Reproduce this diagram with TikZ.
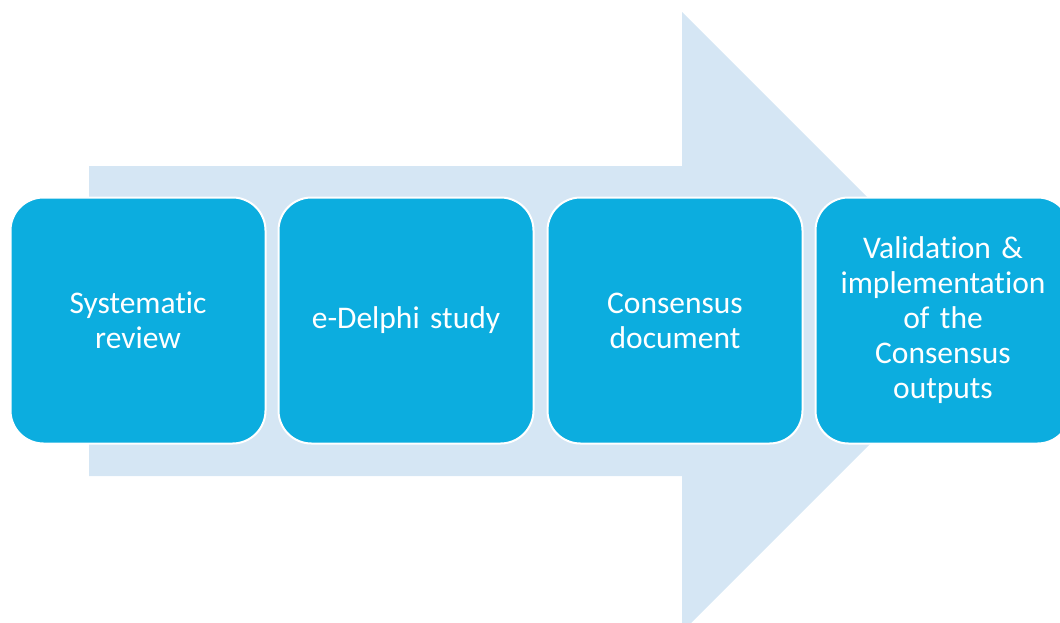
\documentclass[tikz,border=0pt]{standalone}
\usepackage{fontspec}
\setmainfont[Ligatures={NoCommon,NoRare}]{Carlito}
\definecolor{arrowfill}{HTML}{D5E6F4}
\definecolor{boxfill}{HTML}{0CADDF}
\tikzset{
  stagebox/.style={rectangle, rounded corners=33pt, fill=boxfill, draw=white, line width=2pt,
    minimum width=255pt, minimum height=246pt, text width=230pt, align=center,
    text=white, font=\fontsize{31.5}{35}\selectfont, inner sep=0pt},
}
\begin{document}
\begin{tikzpicture}[x=1pt,y=-1pt]
\useasboundingbox (0,0) rectangle (1060,622);
\clip (0,0) rectangle (1060,622);
% big background arrow
\fill[arrowfill] (89,166) -- (682,166) -- (682,12) -- (992,322) -- (682,632) -- (682,476) -- (89,476) -- cycle;
% stages
\node[stagebox] (s1) at (138,320.5) {Systematic\\review};
\node[stagebox] (s2) at (406,320.5) {e-Delphi study};
\node[stagebox] (s3) at (675,320.5) {Consensus\\document};
\node[stagebox] (s4) at (943,320.5) {Validation \&\\implementation\\of the\\Consensus\\outputs};
\end{tikzpicture}
\end{document}
